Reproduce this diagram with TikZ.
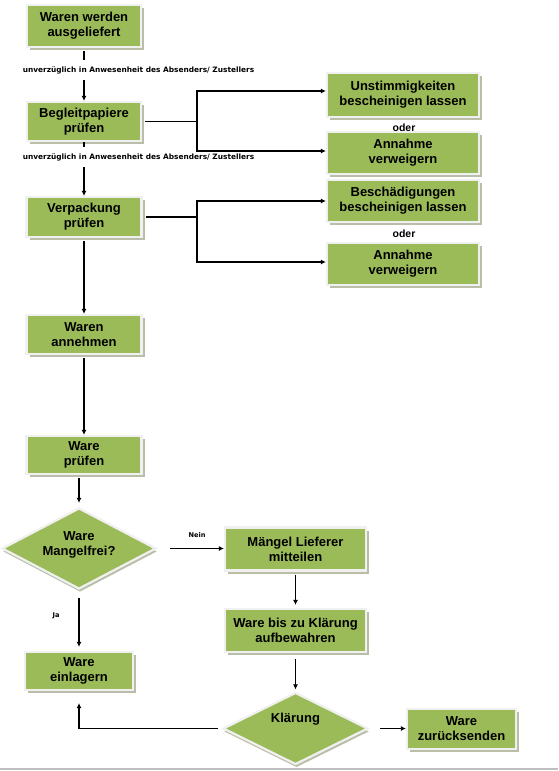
\documentclass[tikz,border=0pt]{standalone}
\usepackage{fontspec}
\setmainfont{Liberation Sans}
\newfontfamily\notefont{DejaVu Sans}
\usetikzlibrary{arrows.meta, shapes.geometric, shadows}
\usetikzlibrary{calc}
\definecolor{boxgreen}{HTML}{9BBB59}
\definecolor{boxrim}{HTML}{F0F0F0}
\definecolor{boxshade}{HTML}{B8BEA8}

\begin{document}
\begin{tikzpicture}[x=1pt, y=-1pt,
    stepbox/.style={rectangle, fill=boxgreen, draw=boxrim, line width=2.2pt,
        inner sep=0pt, align=center, font=\bfseries\fontsize{13}{15}\selectfont,
        drop shadow={shadow xshift=3pt, shadow yshift=-3pt, fill=boxshade, opacity=1}},
    decision/.style={diamond, aspect=1.9, fill=boxgreen, draw=boxrim, line width=2.2pt,
        inner sep=0pt,
        drop shadow={shadow xshift=1pt, shadow yshift=-3pt, fill=boxshade, opacity=1}},
    decisiontext/.style={align=center, font=\bfseries\fontsize{13}{15}\selectfont},
    link/.style={line width=1.4pt},
    flow/.style={link, -{Latex[length=5pt, width=5pt]}},
    note/.style={font=\notefont\bfseries\fontsize{7.4}{8}\selectfont, fill=white,
        inner xsep=1pt, inner ysep=6pt},
    tag/.style={font=\notefont\bfseries\fontsize{6.6}{8}\selectfont, inner sep=1pt},
    ortext/.style={font=\bfseries\fontsize{10.5}{12}\selectfont, inner sep=1pt}]
    \useasboundingbox (0,0) rectangle (558,771);
% main column
\node[stepbox, minimum width=114pt, minimum height=42pt] (wa) at (84,26) {Waren werden\\ausgeliefert};
\node[stepbox, minimum width=114pt, minimum height=39pt] (bp) at (84,121.5) {Begleitpapiere\\prüfen};
\node[stepbox, minimum width=115pt, minimum height=40pt] (vp) at (84,217) {Verpackung\\prüfen};
\node[stepbox, minimum width=115pt, minimum height=39pt] (an) at (84,334.5) {Waren\\annehmen};
\node[stepbox, minimum width=115pt, minimum height=38pt] (wp) at (84,455) {Ware\\prüfen};
\node[decision, minimum width=154pt, minimum height=81pt,
    label={[decisiontext, yshift=4pt]center:Ware\\Mangelfrei?}] (mf) at (79,548.5) {};
\node[stepbox, minimum width=108pt, minimum height=38pt] (el) at (79,671) {Ware\\einlagern};
% right side
\node[stepbox, minimum width=152pt, minimum height=44pt] (us) at (403,95) {Unstimmigkeiten\\bescheinigen lassen};
\node[stepbox, minimum width=152pt, minimum height=42pt] (av1) at (403,153) {Annahme\\verweigern};
\node[stepbox, minimum width=152pt, minimum height=42pt] (bs) at (403,201) {Beschädigungen\\bescheinigen lassen};
\node[stepbox, minimum width=152pt, minimum height=42pt] (av2) at (403,264) {Annahme\\verweigern};
\node[ortext] (or1) at (404,128) {oder};
\node[ortext] (or2) at (404,234) {oder};
\node[stepbox, minimum width=141pt, minimum height=43pt] (ml) at (295.5,549) {Mängel Lieferer\\mitteilen};
\node[stepbox, minimum width=141pt, minimum height=43pt] (wb) at (295.5,630.5) {Ware bis zu Klärung\\aufbewahren};
\node[decision, minimum width=145pt, minimum height=72pt,
    label={[decisiontext, yshift=9pt]center:Klärung}] (kl) at (295.5,728.5) {};
\node[stepbox, minimum width=109pt, minimum height=40pt] (zs) at (461.5,729) {Ware\\zurücksenden};

% connectors
\draw[flow, shorten <=3pt] (wa) -- (bp);
\draw[flow] (bp) -- (vp);
\draw[flow, shorten <=3pt] (vp) -- (an);
\draw[flow, shorten <=3pt] (an) -- (wp);
\draw[flow, shorten <=3pt, shorten >=4pt] (wp.south -| mf.north) -- (mf.north);
\node[note] (hint1) at (138.5,70) {unverzüglich in Anwesenheit des Absenders/ Zustellers};
\node[note] (hint2) at (138.5,157) {unverzüglich in Anwesenheit des Absenders/ Zustellers};

\coordinate (fork1) at (197,121.5);
\draw[link, shorten <=3pt] (bp.east) -- (fork1);
\draw[flow] (fork1) |- ([yshift=4pt]us.west);
\draw[flow] (fork1) |- ([yshift=2pt]av1.west);
\coordinate (fork2) at (197,217);
\draw[link, shorten <=3pt] (vp.east) -- (fork2);
\draw[flow] (fork2) |- (bs.west);
\draw[flow] (fork2) |- ([yshift=2pt]av2.west);

\draw[flow, shorten <=8pt, shorten >=4pt] (mf.south) -- (el.north);
\node[tag] (ja) at (56,616) {Ja};
\draw[flow, shorten <=13pt] (mf.east) -- (mf.east -| ml.west);
\node[tag] (nein) at (197,535) {Nein};
\draw[flow, shorten <=3pt, shorten >=3pt] (ml) -- (wb);
\draw[flow, shorten <=6pt, shorten >=2pt] (wb.south) -- (kl.north);
\draw[flow, shorten <=11pt] (kl.east) -- (kl.east -| zs.west);
\draw[flow, shorten <=4pt, shorten >=12pt] (kl.west) -| (el.south);

\draw[black!25, line width=1.5pt] (0,769) -- (558,769);
\end{tikzpicture}
\end{document}
